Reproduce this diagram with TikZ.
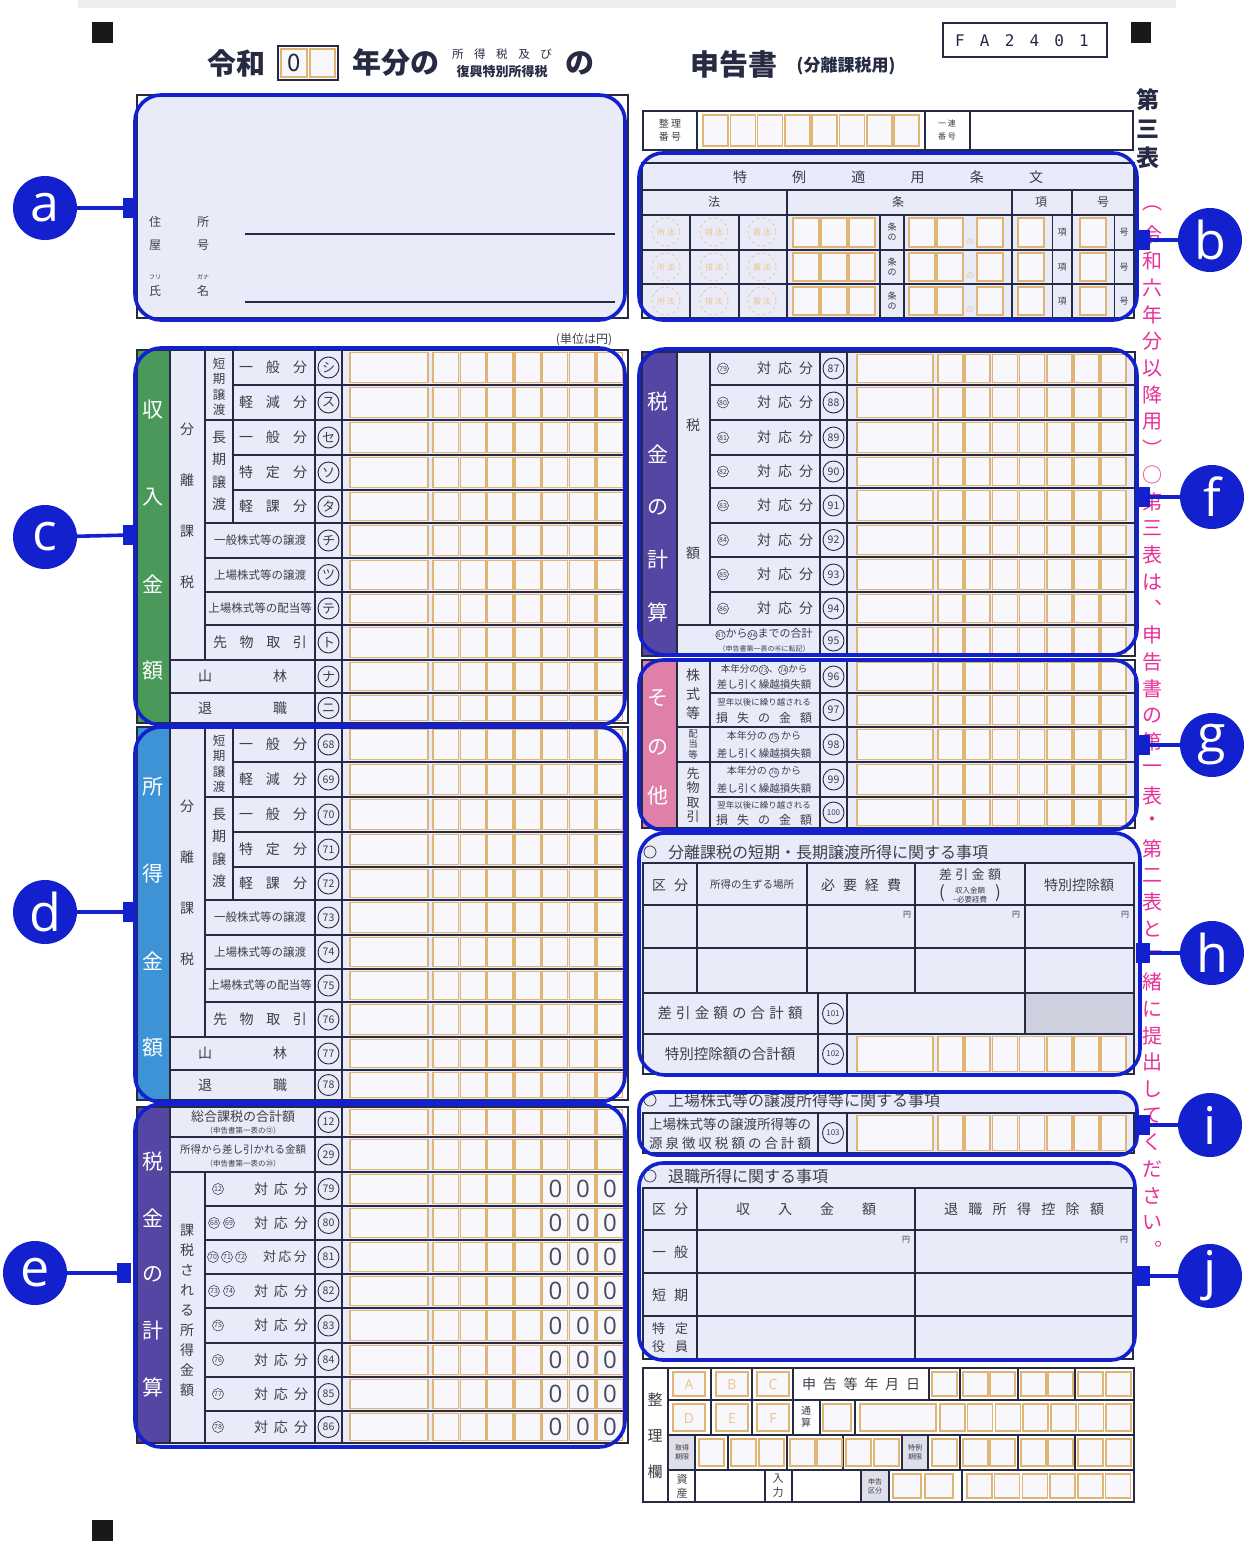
\documentclass[tikz,border=0pt]{standalone}
\usepackage{fontspec}
\setmainfont{Noto Sans CJK JP}
\newfontfamily\latinfont{Open Sans}
\newfontfamily\monofont{DejaVu Sans Mono}
\definecolor{hl}{RGB}{18,32,205}
\definecolor{lav}{RGB}{233,235,249}
\definecolor{cellw}{RGB}{248,248,252}
\definecolor{org}{RGB}{224,180,115}
\definecolor{ink}{RGB}{38,42,66}
\definecolor{txt}{RGB}{62,62,74}
\definecolor{grn}{RGB}{74,152,90}
\definecolor{sky}{RGB}{62,146,214}
\definecolor{pur}{RGB}{84,70,162}
\definecolor{pnk}{RGB}{222,128,168}
\definecolor{mag}{RGB}{232,48,152}
\definecolor{greyc}{RGB}{206,208,222}
\definecolor{greyl}{RGB}{222,223,232}
\definecolor{faint}{RGB}{236,196,140}
\newcommand\fsz[1]{\fontsize{#1}{#1}\selectfont}
\newcommand\spr[2]{\makebox[#1pt][s]{#2}}
\newcommand\cn[1]{\tikz[baseline=(cc.base)]\node[circle,draw=ink,line width=0.5pt,inner sep=0.2pt,minimum size=9.5pt,font=\fsz{6.5},text=txt](cc){#1};}
\tikzset{
  lb/.style={inner sep=0pt,text=txt,font=\fsz{#1}},
  lb/.default=13,
  num/.style={circle,draw=ink,line width=0.9pt,inner sep=0pt,minimum size=21pt,text=txt,font=\fsz{#1}},
  num/.default=10.5,
  scn/.style={circle,draw=ink,line width=0.5pt,inner sep=0.2pt,minimum size=11pt,text=txt,font=\fsz{7}},
  obox/.style={draw=org,line width=1.5pt,fill=cellw},
  gline/.style={draw=ink,line width=1.4pt},
  frame/.style={draw=ink,line width=1.8pt},
  hlbox/.style={draw=hl,line width=3.6pt,rounded corners=#1},
  hlbox/.default=26pt,
  hlfill/.style={fill=lav,rounded corners=#1},
  hlfill/.default=26pt,
  tag/.style={circle,fill=hl,minimum size=64pt,inner sep=0pt,text=white,font=\latinfont\fsz{52}},
  tagline/.style={draw=hl,line width=3.6pt},
  hlmark/.style={fill=hl,minimum width=14pt,minimum height=20pt,inner sep=0pt},
  band/.style={text=white,inner sep=0pt,font=\fsz{21}},
  yen/.style={inner sep=0pt,text=txt,font=\fsz{8}},
}
\newcommand\inL[2]{%
  \draw[obox] (350,#1+2.5) rectangle (428,#2-2.5);
  \foreach \i in {0,...,6}{\draw[obox] ({433+27.3*\i},#1+2.5) rectangle ({458.5+27.3*\i},#2-2.5);}}
\newcommand\inR[2]{%
  \draw[obox] (857,#1+2.5) rectangle (933,#2-2.5);
  \foreach \i in {0,...,6}{\draw[obox] ({938+27.2*\i},#1+2.5) rectangle ({963+27.2*\i},#2-2.5);}}
\newcommand\SepBlk[4]{%
  \fill[#1] (137,350) rectangle (170,723);
  \foreach \ch [count=\k from 0] in {#2} \node[band] (bd\k) at (153,{410+87*\k}) {\ch};
  \foreach \y in {385,455,490} \draw[gline] (233,\y) -- (628,\y);
  \foreach \y in {420,523,558,592,625} \draw[gline] (205,\y) -- (628,\y);
  \foreach \y in {660,693} \draw[gline] (170,\y) -- (628,\y);
  \draw[gline] (170,350) -- (170,723) (205,350) -- (205,660) (233,350) -- (233,523) (315,350) -- (315,723) (342,350) -- (342,723);
  \foreach \a/\b in {350/385,385/420,420/455,455/490,490/523,523/558,558/592,592/625,625/660,660/693,693/723}{\inL{\a}{\b}}
  \draw[frame] (137,350) rectangle (628,723);
  \node[lb,align=center,font=\fontsize{12.5}{15.5}\selectfont] (sk) at (219,387) {短\\期\\譲\\渡};
  \node[lb,align=center,font=\fontsize{14}{22.5}\selectfont] (lk) at (219,471) {長\\期\\譲\\渡};
  \node[lb,align=center,font=\fontsize{14}{51}\selectfont] (bk) at (187,506) {分\\離\\課\\税};
  \node[lb=14] (r1) at (273,367.5) {\spr{68}{一 般 分}};
  \node[lb=14] (r2) at (273,402.5) {\spr{68}{軽 減 分}};
  \node[lb=14] (r3) at (273,437.5) {\spr{68}{一 般 分}};
  \node[lb=14] (r4) at (273,472.5) {\spr{68}{特 定 分}};
  \node[lb=14] (r5) at (273,506.5) {\spr{68}{軽 課 分}};
  \node[lb=11.5] (r6) at (260,540.5) {一般株式等の譲渡};
  \node[lb=11.5] (r7) at (260,575) {上場株式等の譲渡};
  \node[lb=11.5] (r8) at (260,608.5) {上場株式等の配当等};
  \node[lb=14] (r9) at (260,642.5) {\spr{94}{先 物 取 引}};
  \node[lb=14] (r10a) at (205,676.5) {山};
  \node[lb=14] (r10b) at (280,676.5) {林};
  \node[lb=14] (r11a) at (205,708) {退};
  \node[lb=14] (r11b) at (280,708) {職};
  \foreach \n/\yc [count=\k] in {#3} \node[num=#4] (nm\k) at (328.5,\yc) {\n};
}
\begin{document}
\begin{tikzpicture}[x=1pt,y=-1pt]
\useasboundingbox (0,0) rectangle (1255,1550);
\fill[white] (0,0) rectangle (1255,1550);
\fill[black!7] (78,0) rectangle (1176,8);
% corner marks
\fill[black!90] (92,22) rectangle (113,43);
\fill[black!90] (1131,22) rectangle (1151,43);
\fill[black!90] (92,1520) rectangle (113,1541);
% title
\node[font=\bfseries\fsz{29},text=ink,inner sep=0] (t1) at (236,63) {令和};
\draw[ink,line width=1.3pt] (278,46) rectangle (338,80);
\draw[obox,fill=cellw] (281,49) rectangle (307,77);
\draw[obox,fill=cellw] (310,49) rectangle (335,77);
\node[font=\fsz{24},text=ink,inner sep=0] (t0) at (294,63) {0};
\node[font=\bfseries\fsz{29},text=ink,inner sep=0] (t2) at (396,63) {年分の};
\node[lb=11.5,text=ink] (t3) at (502,54) {\spr{100}{所 得 税 及 び}};
\node[font=\bfseries\fsz{13},text=ink,inner sep=0] (t4) at (502,72) {復興特別所得税};
\node[font=\bfseries\fsz{29},text=ink,inner sep=0] (t5) at (580,63) {の};
\node[font=\bfseries\fsz{29},text=ink,inner sep=0] (t6) at (734,64) {申告書};
\node[font=\bfseries\fsz{17},text=ink,inner sep=0] (t7) at (846,66) {(分離課税用)};
\draw[ink,line width=1.5pt] (943,23) rectangle (1107,57);
\foreach \ch [count=\k from 0] in {F,A,2,4,0,1} \node[font=\monofont\fsz{16},text=ink,inner sep=0] (fa\k) at ({960+24.8*\k},41) {\ch};
% 第三表
\node[align=center,font=\bfseries\fontsize{23}{29}\selectfont,text=ink,inner sep=0] (dai3) at (1148,129) {第\\三\\表};
% magenta vertical note
\foreach \ch [count=\k from 0] in {︵,令,和,六,年,分,以,降,用,︶,○,第,三,表,は,︑,申,告,書,の,第,一,表,・,第,二,表,と,一,緒,に,提,出,し,て,く,だ,さ,い,︒}
  \node[text=mag,font=\fsz{20},inner sep=0] (mg\k) at (1152,{208+26.7*\k}) {\ch};
% highlight fills
\fill[hlfill] (135,95) rectangle (625,320);
\fill[hlfill=24pt] (639,153) rectangle (1137,320);
\fill[hlfill] (135,348) rectangle (625,725);
\fill[hlfill] (135,727) rectangle (625,1102);
\fill[hlfill] (135,1104) rectangle (625,1447);
\fill[hlfill] (639,349) rectangle (1137,655);
\fill[hlfill=24pt] (639,660) rectangle (1137,830);
\fill[hlfill] (639,833) rectangle (1140,1075);
\fill[hlfill=18pt] (639,1092) rectangle (1137,1155);
\fill[hlfill=24pt] (639,1163) rectangle (1135,1360);
% ---- a block
\draw[frame] (137,95) rectangle (628,318);
\node[lb=12] (a1) at (155,222) {住};
\node[lb=12] (a2) at (203,222) {所};
\node[lb=12] (a3) at (155,245) {屋};
\node[lb=12] (a4) at (203,245) {号};
\node[lb=6] (a5) at (155,277) {フリ};
\node[lb=6] (a6) at (203,277) {ガナ};
\node[lb=12] (a7) at (155,291) {氏};
\node[lb=12] (a8) at (203,291) {名};
\draw[ink,line width=1.3pt] (245,234) -- (615,234);
\draw[ink,line width=1.3pt] (245,302) -- (615,302);
% ---- 整理番号
\draw[frame] (643,111) rectangle (1133,150);
\draw[gline] (697,111) -- (697,150) (925,111) -- (925,150) (970,111) -- (970,150);
\node[lb,align=center,font=\fontsize{10}{13}\selectfont] (sb1) at (670,130) {整\ 理\\番\ 号};
\foreach \i in {0,...,7} \draw[obox] ({703+27.3*\i},115) rectangle ({728+27.3*\i},146);
\node[lb,align=center,font=\fontsize{8}{13}\selectfont] (sb2) at (947,130) {一\ 連\\番\ 号};
% ---- b block
\draw[frame] (642,163) rectangle (1134,318);
\draw[gline] (642,190) -- (1134,190) (642,215) -- (1134,215) (642,250) -- (1134,250) (642,284) -- (1134,284);
\draw[gline] (787,190) -- (787,318) (1012,190) -- (1012,318) (1072,190) -- (1072,318);
\draw[gline] (690,215) -- (690,318) (739,215) -- (739,318) (880,215) -- (880,318) (904,215) -- (904,318);
\draw[gline,line width=0.8pt] (1052,215) -- (1052,318) (1114,215) -- (1114,318);
\node[lb=14] (bh) at (888,177) {\spr{310}{特 例 適 用 条 文}};
\node[lb=12] (bh1) at (714,202) {法};
\node[lb=12] (bh2) at (898,202) {条};
\node[lb=12] (bh3) at (1041,202) {項};
\node[lb=12] (bh4) at (1103,202) {号};
\foreach \yc/\a/\b in {232/215/250,267/250/284,301/284/318} {
  \foreach \xc/\t in {666/所,714/措,762/震} {
    \draw[faint,dashed,line width=0.7pt] (\xc,\yc) circle (14);
    \node[text=faint,font=\fsz{8},inner sep=0] at (\xc,\yc) {\t\ 法};
  }
  \foreach \xa in {793,821,849,909,937,977} \draw[obox] (\xa,\a+3) rectangle (\xa+26,\b-3);
  \node[lb,align=center,font=\fontsize{9}{10}\selectfont] at (892,\yc) {条\\の};
  \node[text=faint,font=\fsz{8},inner sep=0] at (970,\b-8) {の};
  \draw[obox] (1018,\a+3) rectangle (1044,\b-3);
  \node[lb=9] at (1062,\yc) {項};
  \draw[obox] (1080,\a+3) rectangle (1106,\b-3);
  \node[lb=9] at (1124,\yc) {号};
}
\node[lb=12] (unit) at (584,340) {(単位は円)};
% ---- c and d blocks
\SepBlk{grn}{収,入,金,額}{シ/367.5,ス/402.5,セ/437.5,ソ/472.5,タ/506.5,チ/540.5,ツ/575,テ/608.5,ト/642.5,ナ/676.5,ニ/708}{13}
\begin{scope}[shift={(0,377)}]
\SepBlk{sky}{所,得,金,額}{68/367.5,69/402.5,70/437.5,71/472.5,72/506.5,73/540.5,74/575,75/608.5,76/642.5,77/676.5,78/708}{10.5}
\end{scope}
% ---- e block
\fill[pur] (137,1107) rectangle (170,1443);
\foreach \ch [count=\k from 0] in {税,金,の,計,算} \node[band] (eb\k) at (153,{1162+56.3*\k}) {\ch};
\foreach \y in {1137,1172} \draw[gline] (170,\y) -- (628,\y);
\foreach \y in {1206,1240,1274,1308,1343,1377,1411} \draw[gline] (205,\y) -- (628,\y);
\draw[gline] (170,1107) -- (170,1443) (205,1172) -- (205,1443) (315,1107) -- (315,1443) (342,1107) -- (342,1443);
\foreach \a/\b in {1107/1137,1137/1172,1172/1206,1206/1240,1240/1274,1274/1308,1308/1343,1343/1377,1377/1411,1411/1443}{\inL{\a}{\b}}
\draw[frame] (137,1107) rectangle (628,1443);
\node[lb=13] (e1) at (243,1117) {総合課税の合計額};
\node[lb=7.5] (e1b) at (243,1131) {（申告書第一表の⑫）};
\node[lb=10.5] (e2) at (243,1149) {所得から差し引かれる金額};
\node[lb=7.5] (e2b) at (243,1164) {（申告書第一表の㉙）};
\node[num] (en1) at (328.5,1122) {12};
\node[num] (en2) at (328.5,1154.5) {29};
\node[lb,align=center,font=\fontsize{14}{20}\selectfont] (ev) at (187,1310) {課\\税\\さ\\れ\\る\\所\\得\\金\\額};
\node[scn] (es1) at (218,1189) {12};
\node[scn] (es2) at (214,1223) {68};
\node[scn] (es3) at (229,1223) {69};
\node[scn] (es4) at (213,1257) {70};
\node[scn] (es5) at (227,1257) {71};
\node[scn] (es6) at (241,1257) {72};
\node[scn] (es7) at (214,1291) {73};
\node[scn] (es8) at (229,1291) {74};
\node[scn] (es9) at (218,1325.5) {75};
\node[scn] (es10) at (218,1360) {76};
\node[scn] (es11) at (218,1394) {77};
\node[scn] (es12) at (218,1427) {78};
\foreach \yc/\m [count=\k] in {1189/79,1223/80,1257/81,1291/82,1325.5/83,1360/84,1394/85,1427/86} {
  \node[num] (en\k x) at (328.5,\yc) {\m};
  \foreach \xc in {555.5,583,610} \node[font=\latinfont\fsz{24},text=ink!85,inner sep=0] at (\xc,\yc) {0};
}
\foreach \yc in {1189,1223,1291,1325.5,1360,1394,1427} \node[lb=14] at (281,\yc) {\spr{54}{対 応 分}};
\node[lb=13] (ew) at (285,1257) {\spr{44}{対 応 分}};
% ---- f block
\fill[pur] (642,352) rectangle (677,656);
\foreach \ch [count=\k from 0] in {税,金,の,計,算} \node[band] (fb\k) at (658,{402+52.5*\k}) {\ch};
\foreach \y in {385,420,455,488,523,557,592} \draw[gline] (710,\y) -- (1135,\y);
\draw[gline] (677,625) -- (1135,625);
\draw[gline] (677,352) -- (677,656) (710,352) -- (710,625) (820,352) -- (820,656) (847,352) -- (847,656);
\foreach \a/\b in {352/385,385/420,420/455,455/488,488/523,523/557,557/592,592/625,625/656}{\inR{\a}{\b}}
\draw[frame] (642,352) rectangle (1135,656);
\node[lb=14] (fz1) at (693,425) {税};
\node[lb=14] (fz2) at (693,553) {額};
\foreach \n/\m/\yc in {79/87/368.5,80/88/402.5,81/89/437.5,82/90/471.5,83/91/505.5,84/92/540,85/93/574.5,86/94/608.5} {
  \node[scn] (fs\n) at (723,\yc) {\n};
  \node[lb=14] (fl\n) at (785,\yc) {\spr{56}{対 応 分}};
  \node[num] (fn\m) at (833.5,\yc) {\m};
}
\node[lb=11] (f9a) at (764,634) {\cn{87}から\cn{94}までの合計};
\node[lb=7] (f9b) at (764,649) {（申告書第一表の㊺に転記）};
\node[num] (fn95) at (833.5,640.5) {95};
% ---- g block
\fill[pnk] (642,660) rectangle (677,828);
\foreach \ch [count=\k from 0] in {そ,の,他} \node[band] (gb\k) at (658,{698+49*\k}) {\ch};
\draw[gline] (710,693) -- (1135,693) (677,727) -- (1135,727) (677,762) -- (1135,762) (710,797) -- (1135,797);
\draw[gline] (677,660) -- (677,828) (710,660) -- (710,828) (820,660) -- (820,828) (847,660) -- (847,828);
\foreach \a/\b in {660/693,693/727,727/762,762/797,797/828}{\inR{\a}{\b}}
\draw[frame] (642,660) rectangle (1135,828);
\node[lb,align=center,font=\fontsize{14}{19}\selectfont] (gk1) at (693,694) {株\\式\\等};
\node[lb,align=center,font=\fontsize{9.5}{10.5}\selectfont] (gk2) at (693,744.5) {配\\当\\等};
\node[lb,align=center,font=\fontsize{13}{14.5}\selectfont] (gk3) at (693,795) {先\\物\\取\\引};
\node[lb=9.5] (g1a) at (764,669.5) {本年分の\cn{73}、\cn{74}から};
\node[lb=10.5] (g1b) at (764,685) {差し引く繰越損失額};
\node[lb=8.5] (g2a) at (764,702) {翌年以後に繰り越される};
\node[lb=12] (g2b) at (764,718) {\spr{96}{損 失 の 金 額}};
\node[lb=10] (g3a) at (764,737) {本年分の \cn{75} から};
\node[lb=10.5] (g3b) at (764,753) {差し引く繰越損失額};
\node[lb=10] (g4a) at (764,772) {本年分の \cn{76} から};
\node[lb=10.5] (g4b) at (764,788) {差し引く繰越損失額};
\node[lb=8.5] (g5a) at (764,805) {翌年以後に繰り越される};
\node[lb=12] (g5b) at (764,820) {\spr{96}{損 失 の 金 額}};
\node[num] (gn96) at (833.5,676.5) {96};
\node[num] (gn97) at (833.5,710) {97};
\node[num] (gn98) at (833.5,744.5) {98};
\node[num] (gn99) at (833.5,779.5) {99};
\node[num=8] (gn100) at (833.5,812.5) {100};
% ---- h block
\draw[txt,line width=0.8pt] (650,852) circle (6);
\node[lb=16,anchor=west] (hh) at (668,852) {分離課税の短期・長期譲渡所得に関する事項};
\fill[greyc] (1025,993) rectangle (1134,1034);
\draw[frame] (643,863) rectangle (1134,1074);
\foreach \y in {905,948,993,1034} \draw[gline] (643,\y) -- (1134,\y);
\draw[gline] (697,863) -- (697,993) (807,863) -- (807,993) (915,863) -- (915,993) (1025,863) -- (1025,1034) (818,993) -- (818,1074) (847,993) -- (847,1074);
\node[lb=14] (h1) at (670,885) {\spr{36}{区 分}};
\node[lb=10.5] (h2) at (752,885) {所得の生ずる場所};
\node[lb=14] (h3) at (861,885) {\spr{80}{必 要 経 費}};
\node[lb=13] (h4) at (970,875) {\spr{62}{差 引 金 額}};
\node[lb,align=center,font=\fontsize{7.5}{8.5}\selectfont] (h4b) at (970,895) {収入金額\\−必要経費};
\node[lb=17] (h4c) at (942,893) {(};
\node[lb=17] (h4d) at (998,893) {)};
\node[lb=14] (h5) at (1079,885) {特別控除額};
\node[yen] (hy1) at (907,915) {円};
\node[yen] (hy2) at (1016,915) {円};
\node[yen] (hy3) at (1125,915) {円};
\node[lb=14.5] (h6) at (730,1013) {\spr{145}{差 引 金 額 の 合 計 額}};
\node[lb=14.5] (h7) at (730,1054) {特別控除額の合計額};
\node[num=8] (hn101) at (833,1013.5) {101};
\node[num=8] (hn102) at (833,1054) {102};
\inR{1034}{1074}
% ---- i block
\draw[txt,line width=0.8pt] (650,1100) circle (6);
\node[lb=16,anchor=west] (ih) at (668,1100) {上場株式等の譲渡所得等に関する事項};
\draw[frame] (643,1113) rectangle (1134,1153);
\draw[gline] (818,1113) -- (818,1153) (847,1113) -- (847,1153);
\node[lb=13.5] (i1) at (730,1124) {上場株式等の譲渡所得等の};
\node[lb=13.5] (i2) at (730,1143) {\spr{162}{源 泉 徴 収 税 額 の 合 計 額}};
\node[num=8] (in103) at (833,1133) {103};
\inR{1113}{1153}
% ---- j block
\draw[txt,line width=0.8pt] (650,1176) circle (6);
\node[lb=16,anchor=west] (jh) at (668,1176) {退職所得に関する事項};
\draw[frame] (643,1188) rectangle (1133,1359);
\foreach \y in {1230,1273,1316} \draw[gline] (643,\y) -- (1133,\y);
\draw[gline] (697,1188) -- (697,1359) (915,1188) -- (915,1359);
\node[lb=14] (j1) at (670,1209) {\spr{36}{区 分}};
\node[lb=14] (j2) at (806,1209) {\spr{140}{収 入 金 額}};
\node[lb=14] (j3) at (1024,1209) {\spr{160}{退 職 所 得 控 除 額}};
\node[lb=14] (j4) at (670,1252) {\spr{36}{一 般}};
\node[lb=14] (j5) at (670,1295) {\spr{36}{短 期}};
\node[lb=13] (j6) at (670,1329) {\spr{36}{特 定}};
\node[lb=13] (j7) at (670,1347) {\spr{36}{役 員}};
\node[yen] (jy1) at (906,1240) {円};
\node[yen] (jy2) at (1124,1240) {円};
% ---- bottom 整理欄
\fill[greyl] (668,1435) rectangle (695,1470);
\fill[greyl] (902,1435) rectangle (928,1470);
\fill[greyl] (861,1470) rectangle (889,1502);
\draw[frame] (643,1368) rectangle (1134,1502);
\draw[gline] (668,1368) -- (668,1502);
\foreach \y in {1400,1435,1470} \draw[gline] (668,\y) -- (1134,\y);
\foreach \x in {711,752,793,929,960,1018,1075} \draw[gline] (\x,1368) -- (\x,1400);
\foreach \x in {711,752,793,820,855} \draw[gline] (\x,1400) -- (\x,1435);
\foreach \x in {695,728,787,843,902,928,960,1018,1075} \draw[gline] (\x,1435) -- (\x,1470);
\foreach \x in {695,765,792,861,889,962} \draw[gline] (\x,1470) -- (\x,1502);
\node[lb,align=center,font=\fontsize{15}{36}\selectfont] (zr) at (655,1436) {整\\理\\欄};
\foreach \xa/\t/\u in {673/A/D,716/B/E,757/C/F} {
  \draw[obox] (\xa,1372) rectangle (\xa+32,1396);
  \node[text=faint,font=\latinfont\fsz{14},inner sep=0] at (\xa+16,1384) {\t};
  \draw[obox] (\xa,1404) rectangle (\xa+32,1431);
  \node[text=faint,font=\latinfont\fsz{14},inner sep=0] at (\xa+16,1418) {\u};
}
\node[lb=14] (z1) at (861,1384) {\spr{118}{申 告 等 年 月 日}};
\foreach \xa in {932,963,990,1021,1048,1078,1106} \draw[obox] (\xa,1372) rectangle (\xa+25,1396);
\node[lb,align=center,font=\fontsize{10}{12}\selectfont] (z2) at (806,1417) {通\\算};
\draw[obox] (823,1404) rectangle (851,1431);
\draw[obox] (860,1404) rectangle (936,1431);
\foreach \i in {0,...,6} \draw[obox] ({940+27.7*\i},1404) rectangle ({965+27.7*\i},1431);
\node[lb,align=center,font=\fontsize{7}{9}\selectfont] (z3) at (682,1452) {取得\\期限};
\foreach \xa in {699,731,759,790,817,846,874} \draw[obox] (\xa,1439) rectangle (\xa+25,1466);
\node[lb,align=center,font=\fontsize{7}{9}\selectfont] (z4) at (915,1452) {特例\\期限};
\foreach \xa in {932,963,990,1021,1048,1078,1106} \draw[obox] (\xa,1439) rectangle (\xa+25,1466);
\node[lb,align=center,font=\fontsize{11}{14}\selectfont] (z5) at (682,1486) {資\\産};
\node[lb,align=center,font=\fontsize{11}{14}\selectfont] (z6) at (778,1486) {入\\力};
\node[lb,align=center,font=\fontsize{7}{9}\selectfont] (z7) at (875,1486) {申告\\区分};
\foreach \xa in {893,925} \draw[obox] (\xa,1474) rectangle (\xa+28,1498);
\foreach \i in {0,...,5} \draw[obox] ({967+27.7*\i},1474) rectangle ({992+27.7*\i},1498);
% ---- highlight outlines
\draw[hlbox] (135,95) rectangle (625,320);
\draw[hlbox=24pt] (639,153) rectangle (1137,320);
\draw[hlbox] (135,348) rectangle (625,725);
\draw[hlbox] (135,727) rectangle (625,1102);
\draw[hlbox] (135,1104) rectangle (625,1447);
\draw[hlbox] (639,349) rectangle (1137,655);
\draw[hlbox=24pt] (639,660) rectangle (1137,830);
\draw[hlbox] (639,833) rectangle (1140,1075);
\draw[hlbox=18pt] (639,1092) rectangle (1137,1155);
\draw[hlbox=24pt] (639,1163) rectangle (1135,1360);
% ---- tags
\node[tag] (ta) at (45,208) {a};
\node[tag] (tc) at (45,537) {c};
\node[tag] (td) at (45,912) {d};
\node[tag] (te) at (35,1273) {e};
\node[tag] (tb) at (1210,240) {b};
\node[tag] (tf) at (1212,497) {f};
\node[tag] (tg) at (1212,745) {g};
\node[tag] (th) at (1212,953) {h};
\node[tag] (ti) at (1210,1125) {i};
\node[tag] (tj) at (1210,1276) {j};
\node[hlmark] (ma) at (130,208) {};
\node[hlmark] (mc) at (130,535) {};
\node[hlmark] (md) at (130,912) {};
\node[hlmark] (me) at (124,1273) {};
\node[hlmark] (mb) at (1143,240) {};
\node[hlmark] (mf) at (1143,497) {};
\node[hlmark] (mg) at (1143,745) {};
\node[hlmark] (mh) at (1143,953) {};
\node[hlmark] (mi) at (1143,1125) {};
\node[hlmark] (mj) at (1143,1276) {};
\draw[tagline] (ta) -- (ma);
\draw[tagline] (tc) -- (mc);
\draw[tagline] (td) -- (md);
\draw[tagline] (te) -- (me);
\draw[tagline] (tb) -- (mb);
\draw[tagline] (tf) -- (mf);
\draw[tagline] (tg) -- (mg);
\draw[tagline] (th) -- (mh);
\draw[tagline] (ti) -- (mi);
\draw[tagline] (tj) -- (mj);
\end{tikzpicture}
\end{document}
